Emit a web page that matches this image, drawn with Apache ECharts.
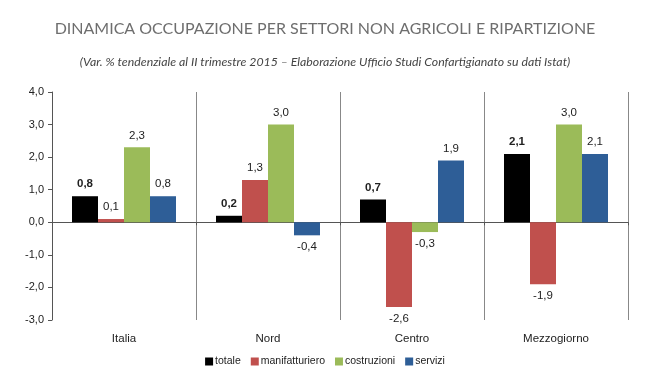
<!DOCTYPE html>
<html><head><meta charset="utf-8">
<script src="https://cdn.jsdelivr.net/npm/echarts@6/dist/echarts.min.js"></script>
<style>html,body{margin:0;padding:0;background:#fff}#c{width:650px;height:386px}</style>
</head><body><div id="c"></div>
<script>
const categories = ['Italia', 'Nord', 'Centro', 'Mezzogiorno'];
const seriesNames = ['totale', 'manifatturiero', 'costruzioni', 'servizi'];
const totale = [0.8, 0.2, 0.7, 2.1];
const manifatturiero = [0.1, 1.3, -2.6, -1.9];
const costruzioni = [2.3, 3.0, -0.3, 3.0];
const servizi = [0.8, -0.4, 1.9, 2.1];
const yTicks = [-3, -2, -1, 0, 1, 2, 3, 4];
const colors = ['#000000', '#C0504D', '#9BBB59', '#2E5E97'];
const values = [totale, manifatturiero, costruzioni, servizi];
const fmt = v => v.toFixed(1).replace('.', ',');

const chart = echarts.init(document.getElementById('c'), null, {renderer: 'canvas'});
const series = values.map((arr, i) => ({
  name: seriesNames[i],
  type: 'bar',
  xAxisIndex: 0,
  barWidth: 26,
  barGap: '0%',
  itemStyle: {color: colors[i]},
  data: arr.map(v => ({
    value: v,
    label: {
      show: true,
      position: v < 0 ? 'bottom' : 'top',
      distance: 6,
      formatter: p => fmt(p.value),
      color: '#222',
      fontFamily: 'Liberation Sans, Arial, sans-serif',
      fontSize: 11.5,
      fontWeight: i === 0 ? 'bold' : 'normal'
    }
  }))
}));

chart.setOption({
  animation: false,
  backgroundColor: '#fff',
  color: colors,
  title: [{
    text: 'DINAMICA OCCUPAZIONE PER SETTORI NON AGRICOLI E RIPARTIZIONE',
    left: 'center', top: 16,
    textStyle: {fontFamily: 'Lato', fontWeight: 'normal', fontSize: 16, color: '#6e6e6e'}
  }, {
    text: '(Var. % tendenziale al II trimestre 2015 \u2013 Elaborazione Ufficio Studi Confartigianato su dati Istat)',
    left: 'center', top: 51,
    textStyle: {fontFamily: 'Lato', fontStyle: 'italic', fontWeight: 'normal', fontSize: 12.3, color: '#444'}
  }],
  legend: {
    bottom: 14, left: 'center',
    itemWidth: 8, itemHeight: 8, itemGap: 10,
    icon: 'rect',
    textStyle: {fontFamily: 'Liberation Sans, Arial, sans-serif', fontSize: 10.5, color: '#222', padding: [0, 0, 0, -3]},
    data: seriesNames
  },
  grid: {left: 52, right: 22, top: 92, bottom: 66},
  xAxis: [{
    type: 'category', data: categories,
    axisLine: {onZero: true, lineStyle: {color: '#555', width: 1}},
    axisTick: {show: true, length: 3, inside: false, lineStyle: {color: '#555'}},
    axisLabel: {show: false},
    splitLine: {show: false}
  }, {
    type: 'category', data: categories, position: 'bottom',
    axisLine: {show: false, onZero: false},
    axisTick: {show: false},
    axisLabel: {show: true, margin: 13, fontFamily: 'Liberation Sans, Arial, sans-serif', fontSize: 11.5, color: '#222'},
    splitLine: {show: true, lineStyle: {color: '#888', width: 1}}
  }],
  yAxis: {
    type: 'value', min: -3, max: 4, interval: 1,
    axisLine: {show: true, lineStyle: {color: '#555'}},
    axisTick: {show: true, length: 4, lineStyle: {color: '#555'}},
    axisLabel: {formatter: v => fmt(v), fontFamily: 'Liberation Sans, Arial, sans-serif', fontSize: 11, color: '#222', margin: 8},
    splitLine: {show: false}
  },
  series: series
});
</script></body></html>
